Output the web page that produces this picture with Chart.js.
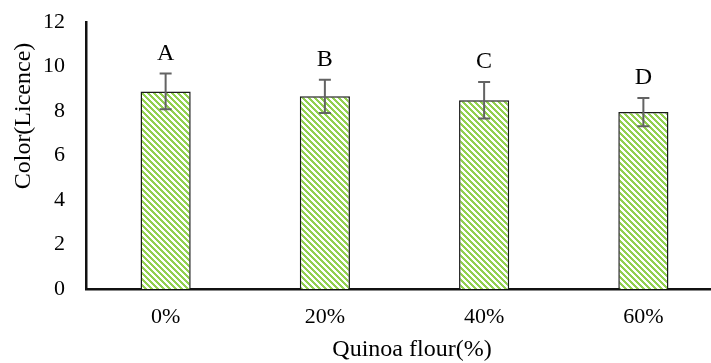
<!DOCTYPE html>
<html>
<head>
<meta charset="utf-8">
<script src="https://cdn.jsdelivr.net/npm/chart.js@4.4.0/dist/chart.umd.min.js"></script>
<style>
  html, body { margin: 0; padding: 0; background: #fff; overflow: hidden; }
  #wrap { position: relative; width: 723px; height: 363px; }
</style>
</head>
<body>
<div id="wrap"><canvas id="myChart"></canvas></div>
<script>
// data
const categories = ['0%', '20%', '40%', '60%']
const colorMeans = [8.88, 8.66, 8.48, 7.95]
const colorErrors = [0.8, 0.75, 0.82, 0.63]
const groupLetters = ['A', 'B', 'C', 'D']
const yTicks = [0, 2, 4, 6, 8, 10, 12]
const xTitle = 'Quinoa flour(%)'
const yTitle = 'Color(Licence)'

const serif = "'Liberation Serif', 'Times New Roman', serif"

// green "wide downward diagonal" fill like the excel pattern
const makeHatch = () => {
  const n = 6
  const c = document.createElement('canvas')
  c.width = n
  c.height = n
  const g = c.getContext('2d')
  const img = g.createImageData(n, n)
  for (let y = 0; y < n; y++) {
    for (let x = 0; x < n; x++) {
      const i = (y * n + x) * 4
      const on = (((x - y) % n) + n) % n < 3
      img.data[i] = on ? 146 : 255
      img.data[i + 1] = on ? 208 : 255
      img.data[i + 2] = on ? 80 : 255
      img.data[i + 3] = 255
    }
  }
  g.putImageData(img, 0, 0)
  return document.getElementById('myChart').getContext('2d').createPattern(c, 'repeat')
}

const errorBars = {
  id: 'errorBars',
  afterDatasetsDraw(chart) {
    const ctx = chart.ctx
    const meta = chart.getDatasetMeta(0)
    const yScale = chart.scales.y
    ctx.save()
    meta.data.forEach((bar, i) => {
      const x = bar.x
      const top = yScale.getPixelForValue(colorMeans[i] + colorErrors[i])
      const bot = yScale.getPixelForValue(colorMeans[i] - colorErrors[i])
      ctx.strokeStyle = '#636363'
      ctx.lineWidth = 2
      ctx.beginPath()
      ctx.moveTo(x, top)
      ctx.lineTo(x, bot)
      ctx.moveTo(x - 6, top)
      ctx.lineTo(x + 6, top)
      ctx.moveTo(x - 6, bot)
      ctx.lineTo(x + 6, bot)
      ctx.stroke()
      ctx.fillStyle = '#000'
      ctx.font = '24px ' + serif
      ctx.textAlign = 'center'
      ctx.textBaseline = 'middle'
      ctx.fillText(groupLetters[i], x, top - 20)
    })
    ctx.restore()
  }
}

// axis titles drawn by hand so they sit where excel put them
const axisTitles = {
  id: 'axisTitles',
  afterDraw(chart) {
    const ctx = chart.ctx
    ctx.save()
    ctx.fillStyle = '#000'
    ctx.font = '24px ' + serif
    ctx.textAlign = 'center'
    ctx.textBaseline = 'middle'
    ctx.fillText(xTitle, 412, 350)
    ctx.translate(24, 116)
    ctx.rotate(-Math.PI / 2)
    ctx.fillText(yTitle, 0, 0)
    ctx.restore()
  }
}

const myBarChart = new Chart(document.getElementById('myChart'), {
  type: 'bar',
  data: {
    labels: categories,
    datasets: [
      {
        data: colorMeans,
        backgroundColor: makeHatch(),
        borderColor: '#1a1a1a',
        borderWidth: 1.5,
        categoryPercentage: 1,
        barPercentage: 0.315
      }
    ]
  },
  options: {
    responsive: true,
    maintainAspectRatio: false,
    animation: false,
    layout: { padding: { top: 22, left: 0, right: 0, bottom: 0 } },
    plugins: {
      legend: { display: false },
      tooltip: { enabled: false }
    },
    scales: {
      x: {
        grid: { display: false, drawTicks: false },
        border: { display: true, color: '#111', width: 2.5 },
        ticks: { color: '#000', font: { family: serif, size: 22 }, padding: 15, maxRotation: 0 },
        afterFit: scale => { scale.height = 74 }
      },
      y: {
        min: 0,
        max: 12,
        afterBuildTicks: scale => { scale.ticks = yTicks.map(v => ({ value: v })) },
        grid: { display: false, drawTicks: false },
        border: { display: true, color: '#111', width: 2.5 },
        ticks: { color: '#000', font: { family: serif, size: 22 }, padding: 21 },
        afterFit: scale => {
          scale.width = 86
          scale.paddingTop = 0
          scale.paddingBottom = 0
        }
      }
    }
  },
  plugins: [errorBars, axisTitles]
})
</script>
</body>
</html>
